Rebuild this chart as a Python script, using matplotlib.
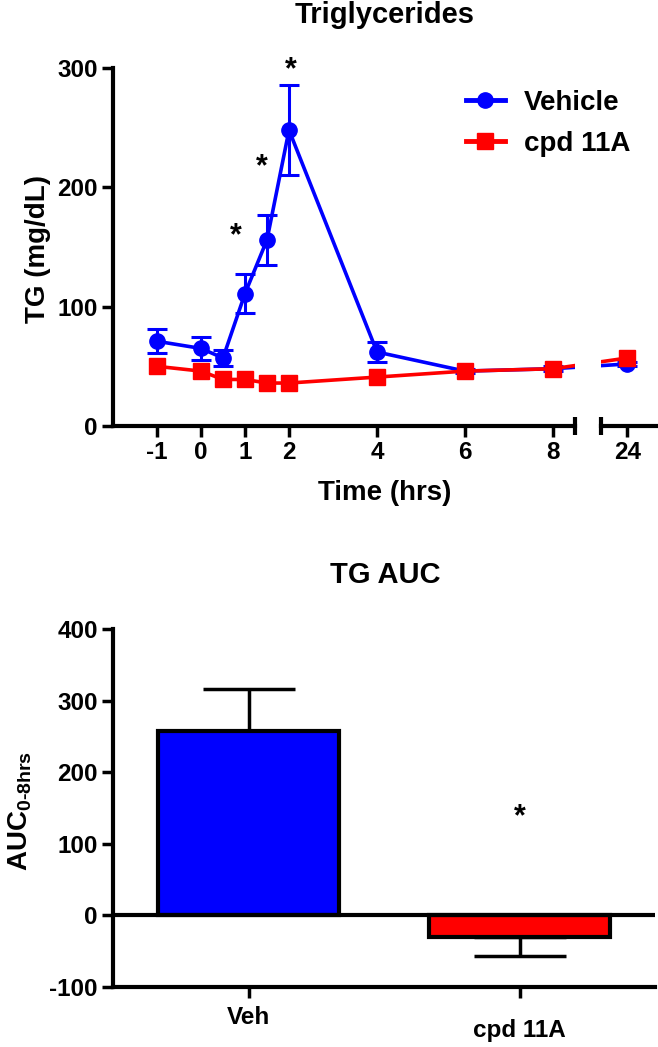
import numpy as np
import matplotlib
matplotlib.use("Agg")
import matplotlib.pyplot as plt
from matplotlib.lines import Line2D

plt.rcParams['font.family'] = ['Liberation Sans', 'DejaVu Sans']
plt.rcParams['font.weight'] = 'bold'
plt.rcParams['axes.unicode_minus'] = False
plt.rcParams['mathtext.fontset'] = 'custom'
plt.rcParams['mathtext.rm'] = 'Liberation Sans:bold'
plt.rcParams['mathtext.bf'] = 'Liberation Sans:bold'

# ---- time course data ----
time_hrs = [-1, 0, 0.5, 1, 1.5, 2, 4, 6, 8, 24]
veh_tg = [71, 65, 57, 111, 156, 248, 62, 46, 48, 52]
veh_err = [10, 10, 7, 16, 21, 38, 8.5, 2, 2, 2]
cpd_tg = [50, 46, 39, 39, 36, 36, 41, 46, 48, 57]
cpd_err = [1.5, 1.5, 1.5, 1.5, 1.5, 1.5, 1.5, 1.5, 1.5, 1.5]
star_t = [0.78, 1.39, 2.05]
star_y = [159, 217, 298]
xticks_left = [-1, 0, 1, 2, 4, 6, 8]
xticks_right = [24]

# ---- AUC data ----
groups = ["Veh", "cpd 11A"]
auc = [257, -30]
auc_err = [59, 27]
auc_star = 137

W, H = 658, 1047
BLUE, RED = '#0000ff', '#ff0000'


def brk(t):
    # squeeze the 8.5 -> 23.4 h gap so the right panel sits next to the left
    t = np.asarray(t, dtype=float)
    return np.where(t <= 8.5, t, 9.10 + (t - 23.4))


def fx(px):
    return px / W


def fy(py):
    return 1 - py / H


fig = plt.figure(figsize=(W / 100, H / 100), dpi=100)

lw_ax = 3.0
tick_kw = dict(direction='out', length=8, width=2.5, labelsize=17.5, pad=3)

# ===========
# top panel
# ===========
ax1 = fig.add_axes([fx(113), fy(426), fx(575) - fx(113), fy(68) - fy(426)])
ax2 = fig.add_axes([fx(601), fy(426), fx(658) - fx(601), fy(68) - fy(426)])

for ax in (ax1, ax2):
    xs = brk(time_hrs)
    ax.patch.set_visible(False)
    ax.errorbar(xs, veh_tg, yerr=veh_err, color=BLUE, lw=2.6, marker='o', ms=11,
                capsize=7, capthick=2.2, elinewidth=2.2, zorder=3)
    ax.errorbar(xs, cpd_tg, yerr=cpd_err, color=RED, lw=2.6, marker='s', ms=11,
                capsize=4, capthick=2.2, elinewidth=2.2, zorder=4)
    ax.set_ylim(0, 300)
    ax.spines['top'].set_visible(False)
    ax.spines['right'].set_visible(False)
    ax.spines['bottom'].set_linewidth(lw_ax)
    ax.spines['left'].set_linewidth(lw_ax)
    ax.tick_params(**tick_kw)

ax1.set_xlim(-2, 8.5)
ax2.set_xlim(9.10, 10.40)
ax1.set_xticks(xticks_left)
ax1.set_xticklabels([str(t) for t in xticks_left])
ax2.set_xticks(brk(xticks_right))
ax2.set_xticklabels([str(t) for t in xticks_right])
ax1.set_yticks([0, 100, 200, 300])
ax2.spines['left'].set_visible(False)
ax2.tick_params(axis='y', left=False, labelleft=False)

# break marks at the ends of the axis segments
ax1.plot([1, 1], [-0.025, 0.025], transform=ax1.transAxes, color='k', lw=3,
         clip_on=False, solid_capstyle='butt')
ax2.plot([0, 0], [-0.025, 0.025], transform=ax2.transAxes, color='k', lw=3,
         clip_on=False, solid_capstyle='butt')

for t, y in zip(star_t, star_y):
    ax1.text(t, y, '*', fontsize=22, ha='center', va='center', color='k')

handles = [Line2D([], [], color=BLUE, lw=3.5, marker='o', ms=11),
           Line2D([], [], color=RED, lw=3.5, marker='s', ms=11)]
fig.legend(handles, ['Vehicle', 'cpd 11A'], loc='upper left',
           bbox_to_anchor=(fx(452), fy(76)), frameon=False, fontsize=20,
           handlelength=1.4, handletextpad=0.7, labelspacing=0.55, borderpad=0)

fig.text(fx(385), fy(15), 'Triglycerides', fontsize=21, ha='center', va='center')
fig.text(fx(385), fy(493), 'Time (hrs)', fontsize=20, ha='center', va='center')
fig.text(fx(38), fy(249), 'TG (mg/dL)', fontsize=20, ha='center', va='center',
         rotation=90)

# ===========
# bottom panel
# ===========
ax3 = fig.add_axes([fx(113), fy(987), fx(655) - fx(113), fy(629) - fy(987)])
pos = np.arange(len(groups))
ax3.bar(pos, auc, width=0.667, color=[BLUE, RED], edgecolor='k',
        linewidth=3, zorder=2)
for p, v, e in zip(pos, auc, auc_err):
    if v >= 0:
        ax3.errorbar(p, v, yerr=[[0], [e]], color='k', capsize=33, capthick=2.5,
                     elinewidth=2.5, zorder=1)
    else:
        ax3.errorbar(p, v, yerr=[[e], [0]], color='k', capsize=33, capthick=2.5,
                     elinewidth=2.5, zorder=1)
ax3.axhline(0, color='k', lw=lw_ax, zorder=3)
ax3.text(pos[1], auc_star, '*', fontsize=22, ha='center', va='center')

ax3.set_xlim(-0.5, 1.5)
ax3.set_ylim(-100, 400)
ax3.set_yticks([-100, 0, 100, 200, 300, 400])
ax3.set_xticks(pos)
ax3.set_xticklabels(groups)
ax3.spines['top'].set_visible(False)
ax3.spines['right'].set_visible(False)
ax3.spines['bottom'].set_linewidth(lw_ax)
ax3.spines['left'].set_linewidth(lw_ax)
ax3.tick_params(**tick_kw)
ax3.xaxis.get_major_ticks()[0].set_pad(6)
ax3.xaxis.get_major_ticks()[1].set_pad(15)

fig.text(fx(385), fy(575), 'TG AUC', fontsize=21, ha='center', va='center')
fig.text(fx(20), fy(811), r'AUC$_{\mathrm{0\text{-}8hrs}}$', fontsize=20,
         ha='center', va='center', rotation=90)

plt.savefig('out.png', dpi=100)
